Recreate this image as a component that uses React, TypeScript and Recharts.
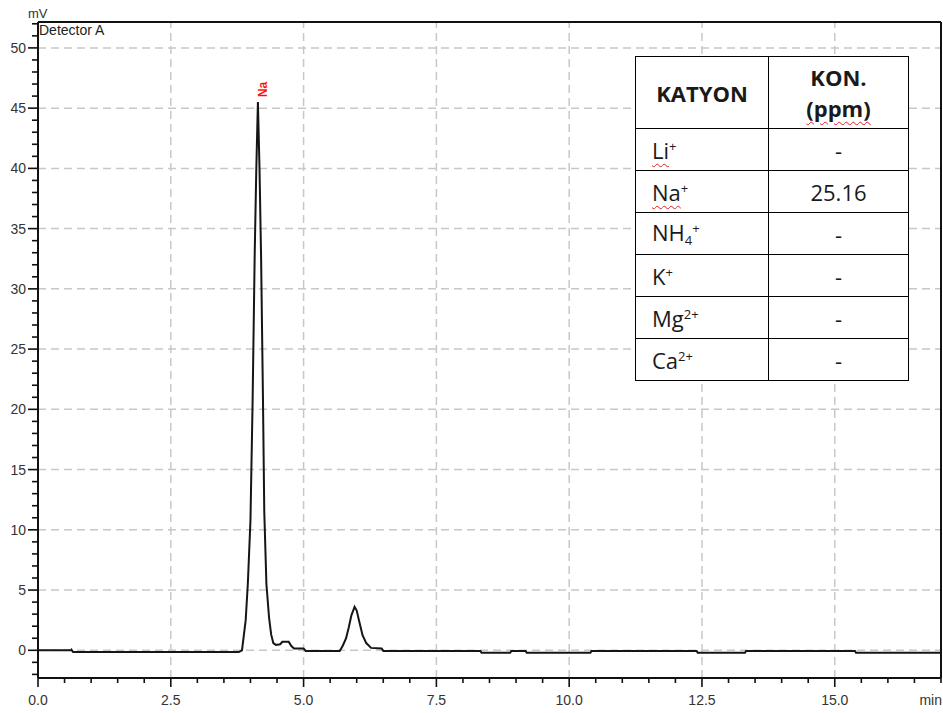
import React from 'react'
import { LineChart, Line, XAxis, YAxis, ReferenceLine } from 'recharts'

// chromatogram: retention time (min) and signal (mV)
const times = [
  0.0, 0.62, 0.63, 0.66, 3.78, 3.84, 3.86, 3.91, 3.95, 4.0, 4.04, 4.08, 4.11, 4.14, 4.17,
  4.2, 4.235, 4.26, 4.3, 4.35, 4.39, 4.43, 4.48, 4.56, 4.6, 4.72, 4.77, 4.82, 5.0, 5.04,
  5.68, 5.74, 5.8, 5.85, 5.9, 5.96, 6.0, 6.05, 6.11, 6.18, 6.27, 6.47, 6.5,
  8.33, 8.35, 8.89, 8.91, 9.18, 9.2, 10.4, 10.42, 12.4, 12.42, 13.31, 13.33, 15.38, 15.4, 17.0,
]
const signal = [
  0.0, 0.0, 0.05, -0.15, -0.15, 0.0, 0.7, 2.5, 5.5, 10.8, 20.6, 33.0, 40.0, 45.5, 40.0,
  32.6, 21.0, 11.5, 5.5, 2.7, 1.3, 0.6, 0.45, 0.5, 0.7, 0.7, 0.35, 0.15, 0.15, -0.05,
  -0.05, 0.4, 1.0, 1.9, 2.9, 3.6, 3.3, 2.35, 1.25, 0.6, 0.2, 0.15, -0.05,
  -0.05, -0.2, -0.2, -0.05, -0.05, -0.2, -0.2, -0.05, -0.05, -0.2, -0.2, -0.05, -0.05, -0.2, -0.2,
]
const peakName = 'Na'

const xTicks = [
  0, 0.5, 1, 1.5, 2, 2.5, 3, 3.5, 4, 4.5, 5, 5.5, 6, 6.5, 7, 7.5, 8, 8.5, 9, 9.5, 10,
  10.5, 11, 11.5, 12, 12.5, 13, 13.5, 14, 14.5, 15, 15.5, 16, 16.5, 17,
]
const xMajor = [0, 2.5, 5, 7.5, 10, 12.5, 15]
const xLabels = ['0.0', '2.5', '5.0', '7.5', '10.0', '12.5', '15.0']
const yTicks = [
  -2, -1, 0, 1, 2, 3, 4, 5, 6, 7, 8, 9, 10, 11, 12, 13, 14, 15, 16, 17, 18, 19, 20, 21, 22,
  23, 24, 25, 26, 27, 28, 29, 30, 31, 32, 33, 34, 35, 36, 37, 38, 39, 40, 41, 42, 43, 44,
  45, 46, 47, 48, 49, 50, 51, 52,
]
const yMajor = [0, 5, 10, 15, 20, 25, 30, 35, 40, 45, 50]

// results table
const cationBase = ['Li', 'Na', 'NH', 'K', 'Mg', 'Ca']
const cationSub = ['', '', '4', '', '', '']
const cationCharge = ['+', '+', '+', '+', '2+', '2+']
const cationSpellMark = [true, true, false, false, false, false]
const concentrations = ['-', '25.16', '-', '-', '-', '-']

const data = times.map((t, i) => ({ t, mv: signal[i] }))
const peakIndex = signal.indexOf(Math.max(...signal))

const X_DOMAIN: [number, number] = [0, 17]
const Y_DOMAIN: [number, number] = [-2.3, 52.15]
const AXIS_FONT = '"Liberation Sans", Arial, sans-serif'
const TABLE_FONT = '"Open Sans", "Noto Sans", sans-serif'
const wavy = { textDecoration: 'underline wavy #e02020', textDecorationThickness: '1px', textUnderlineOffset: '4px' }

function XTick({ x, y, payload }: any) {
  const idx = xMajor.indexOf(payload.value)
  const major = idx >= 0
  return (
    <g>
      <line x1={x} x2={x} y1={y} y2={y + (major ? 9 : 5)} stroke="#111" strokeWidth={1.6} />
      {major && (
        <text x={x} y={y + 27} textAnchor="middle" fontSize={14} fontFamily={AXIS_FONT} fill="#333">
          {xLabels[idx]}
        </text>
      )}
    </g>
  )
}

function YTick({ x, y, payload }: any) {
  const major = yMajor.includes(payload.value)
  return (
    <g>
      <line x1={x - (major ? 10 : 6)} x2={x} y1={y} y2={y} stroke="#111" strokeWidth={1.6} />
      {major && (
        <text x={x - 12} y={y + 5} textAnchor="end" fontSize={14} fontFamily={AXIS_FONT} fill="#333">
          {payload.value}
        </text>
      )}
    </g>
  )
}

function PeakLabel(props: any) {
  const { x, y, index } = props
  if (index !== peakIndex) return null
  const ax = x + 9
  const ay = y - 5
  return (
    <text x={ax} y={ay} transform={`rotate(-90 ${ax} ${ay})`} fontSize={12} fontWeight="bold"
      fontFamily={AXIS_FONT} fill="#ff1010">
      {peakName}
    </text>
  )
}

const cell: React.CSSProperties = { border: '1.5px solid #000', padding: 0 }

export default function App() {
  return (
    <div style={{ position: 'absolute', left: 0, top: 0, width: 943, height: 713, background: '#fff' }}>
      <LineChart width={943} height={713} data={data} margin={{ top: 20, right: 1, left: 0, bottom: 0 }}>
        <XAxis xAxisId="top" orientation="top" type="number" domain={X_DOMAIN} height={2}
          tick={false} tickLine={false} axisLine={{ stroke: '#111', strokeWidth: 2 }} />
        <YAxis yAxisId="right" orientation="right" type="number" domain={Y_DOMAIN} width={1}
          tick={false} tickLine={false} axisLine={{ stroke: '#111', strokeWidth: 2 }} />
        <XAxis dataKey="t" type="number" domain={X_DOMAIN} ticks={xTicks} interval={0} allowDataOverflow
          tickSize={0} tickMargin={0} tickLine={false} height={35} tick={<XTick />}
          axisLine={{ stroke: '#111', strokeWidth: 2 }} />
        <YAxis type="number" domain={Y_DOMAIN} ticks={yTicks} interval={0} allowDataOverflow
          tickSize={0} tickMargin={0} tickLine={false} width={38} tick={<YTick />}
          axisLine={{ stroke: '#111', strokeWidth: 2 }} />
        {xMajor.filter(v => v > 0).map(v => (
          <ReferenceLine key={'x' + v} x={v} stroke="#c8c8c8" strokeWidth={1.5} strokeDasharray="8 5" />
        ))}
        {yMajor.map(v => (
          <ReferenceLine key={'y' + v} y={v} stroke="#c8c8c8" strokeWidth={1.5} strokeDasharray="8 5" />
        ))}
        <Line type="linear" dataKey="mv" stroke="#151515" strokeWidth={2} dot={false}
          isAnimationActive={false} label={PeakLabel} />
      </LineChart>

      <svg width={943} height={713} style={{ position: 'absolute', left: 0, top: 0, pointerEvents: 'none' }}>
        <text x={28} y={18} fontSize={13} fontFamily={AXIS_FONT} fill="#333">mV</text>
        <text x={39} y={35} fontSize={14} fontFamily={AXIS_FONT} fill="#222">Detector A</text>
        <text x={942} y={705} textAnchor="end" fontSize={14} fontFamily={AXIS_FONT} fill="#333">min</text>
      </svg>

      <table style={{
        position: 'absolute', left: 635, top: 56, width: 273, height: 324, borderCollapse: 'collapse',
        background: '#fff', fontFamily: TABLE_FONT, fontSize: 22, color: '#1a1a1a', tableLayout: 'fixed',
      }}>
        <colgroup>
          <col style={{ width: 133 }} />
          <col style={{ width: 140 }} />
        </colgroup>
        <tbody>
          <tr style={{ height: 72 }}>
            <td style={{ ...cell, textAlign: 'center', fontWeight: 'bold' }}>KATYON</td>
            <td style={{ ...cell, textAlign: 'center', fontWeight: 'bold', lineHeight: '31px' }}>
              KON.<br /><span style={wavy}>(ppm)</span>
            </td>
          </tr>
          {cationBase.map((b, i) => (
            <tr key={b} style={{ height: 42 }}>
              <td style={{ ...cell, paddingLeft: 16, lineHeight: 1 }}>
                <span style={cationSpellMark[i] ? wavy : undefined}>{b}</span>
                {cationSub[i] && <sub style={{ fontSize: 13, verticalAlign: '-4px' }}>{cationSub[i]}</sub>}
                <sup style={{ fontSize: 13, verticalAlign: '8px' }}>{cationCharge[i]}</sup>
              </td>
              <td style={{ ...cell, textAlign: 'center', lineHeight: 1 }}>{concentrations[i]}</td>
            </tr>
          ))}
        </tbody>
      </table>
    </div>
  )
}
